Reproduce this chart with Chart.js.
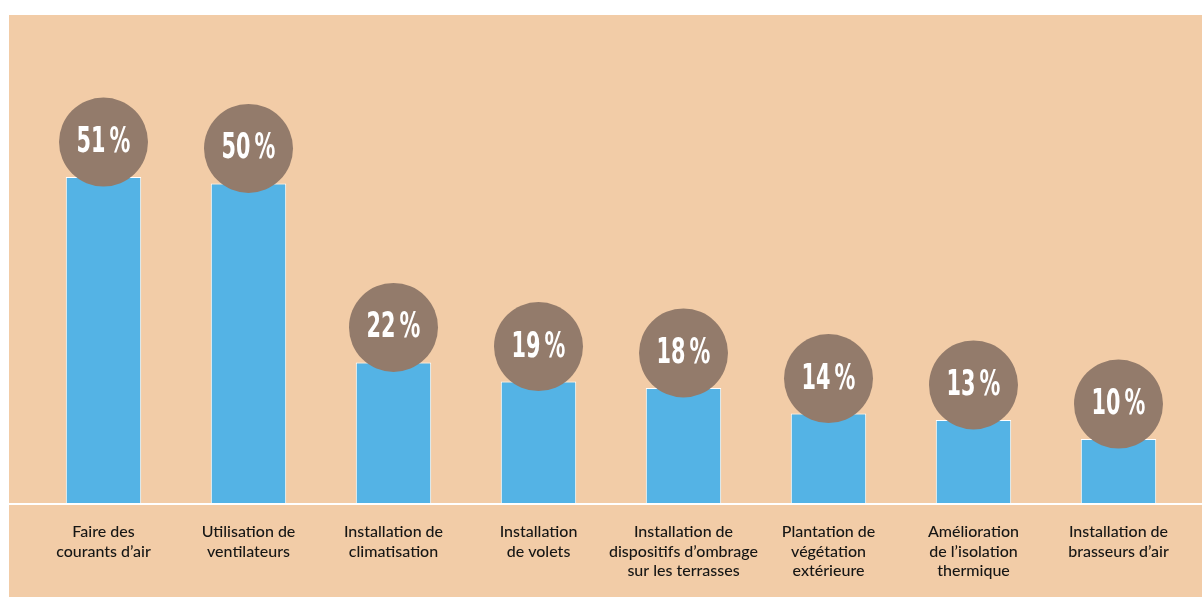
<!DOCTYPE html>
<html>
<head>
<meta charset="utf-8">
<script src="https://cdn.jsdelivr.net/npm/chart.js@4.4.1/dist/chart.umd.min.js"></script>
<style>
html,body{margin:0;padding:0;background:#ffffff;}
#wrap{position:absolute;left:0;top:0;width:1202px;height:597px;}
</style>
</head>
<body>
<div id="wrap"><canvas id="c" width="1202" height="597"></canvas></div>
<script>
const categories = [
  ["Faire des", "courants d\u2019air"],
  ["Utilisation de", "ventilateurs"],
  ["Installation de", "climatisation"],
  ["Installation", "de volets"],
  ["Installation de", "dispositifs d\u2019ombrage", "sur les terrasses"],
  ["Plantation de", "v\u00e9g\u00e9tation", "ext\u00e9rieure"],
  ["Am\u00e9lioration", "de l\u2019isolation", "thermique"],
  ["Installation de", "brasseurs d\u2019air"]
];
const values = [51, 50, 22, 19, 18, 14, 13, 10];
const valueLabels = ["51\u202F%", "50\u202F%", "22\u202F%", "19\u202F%", "18\u202F%", "14\u202F%", "13\u202F%", "10\u202F%"];

const PEACH = "#F2CCA7";
const BLUE = "#54B3E5";
const BROWN = "#937B6B";

const backgroundPlugin = {
  id: "bg",
  beforeDraw(chart) {
    const ctx = chart.ctx;
    ctx.save();
    ctx.fillStyle = PEACH;
    ctx.fillRect(9, 15, chart.width - 9, chart.height - 15);
    ctx.restore();
  },
  afterDatasetsDraw(chart) {
    const ctx = chart.ctx;
    const y0 = chart.scales.y.getPixelForValue(0);
    ctx.save();
    ctx.strokeStyle = "#ffffff";
    ctx.lineWidth = 2;
    ctx.beginPath();
    ctx.moveTo(9, y0 + 1);
    ctx.lineTo(chart.width, y0 + 1);
    ctx.stroke();
    const meta = chart.getDatasetMeta(0);
    meta.data.forEach((bar, i) => {
      const cx = bar.x;
      const cy = bar.y - 35;
      ctx.fillStyle = BROWN;
      ctx.beginPath();
      ctx.arc(cx, cy, 44.5, 0, Math.PI * 2);
      ctx.fill();
      ctx.save();
      ctx.translate(cx, cy);
      ctx.scale(0.66, 1);
      ctx.fillStyle = "#ffffff";
      ctx.font = "bold 35px 'DejaVu Sans Condensed', 'DejaVu Sans', sans-serif";
      ctx.textAlign = "center";
      ctx.textBaseline = "middle";
      ctx.fillText(valueLabels[i], 0, 1);
      ctx.restore();
    });
    ctx.restore();
  }
};

new Chart(document.getElementById("c"), {
  type: "bar",
  data: {
    labels: categories,
    datasets: [{
      data: values,
      backgroundColor: BLUE,
      borderColor: "#ffffff",
      borderWidth: 1,
      categoryPercentage: 1,
      barPercentage: 0.52
    }]
  },
  options: {
    responsive: false,
    animation: false,
    devicePixelRatio: 1,
    layout: { padding: { left: 31, right: 11, top: 30, bottom: 0 } },
    plugins: { legend: { display: false }, tooltip: { enabled: false } },
    scales: {
      x: {
        grid: { display: false, drawTicks: false },
        border: { display: false },
        afterFit(scale) { scale.height = 94; },
        ticks: {
          color: "#161615",
          padding: 19,
          maxRotation: 0,
          autoSkip: false,
          font: { family: "Lato, sans-serif", size: 16, weight: "500", lineHeight: 1.23 }
        }
      },
      y: {
        display: false,
        min: 0,
        max: 74
      }
    }
  },
  plugins: [backgroundPlugin]
});
</script>
</body>
</html>
